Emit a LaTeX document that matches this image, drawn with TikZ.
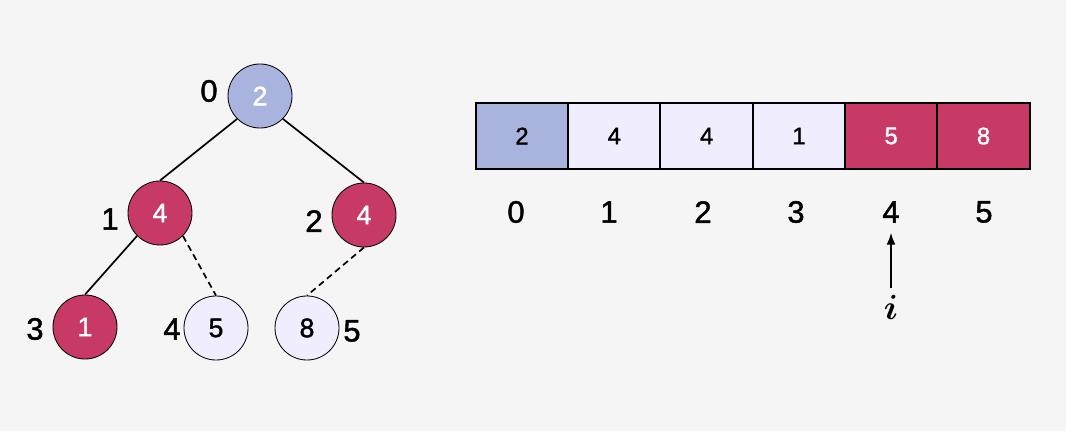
\documentclass[tikz,border=0pt]{standalone}
\usepackage{amsmath}
\usepackage{fontspec}
\setmainfont{Liberation Sans}[FakeBold=1.4]
\usepackage{tikz}
\usetikzlibrary{arrows.meta}

\definecolor{bgc}{HTML}{F5F5F5}
\definecolor{rootc}{HTML}{A9B4DE}
\definecolor{redc}{HTML}{C73A66}
\definecolor{pale}{HTML}{F0EEFE}

\tikzset{
	heapnode/.style={shape=circle,draw=black,line width=0.6pt,minimum size=1.6cm,inner sep=0pt,font=\fontsize{19}{21}\selectfont},
	cell/.style={shape=rectangle,draw=black,line width=1.4pt,minimum width=2.31cm,minimum height=1.65cm,inner sep=0pt,font=\fontsize{17}{19}\selectfont},
	idx/.style={font=\fontsize{22}{25}\selectfont}
}

\begin{document}
\begin{tikzpicture}[x=0.025cm,y=-0.025cm]
			\useasboundingbox[fill=bgc] (0,0) rectangle (1066,431);
			% tree
			\node[heapnode,fill=rootc,text=white] (A) at (260,96){2};
			\node[heapnode,fill=redc,text=white] (B) at (160,213){4};
			\node[heapnode,fill=redc,text=white] (C) at (364,215){4};
			\node[heapnode,fill=redc,text=white] (D) at (85,327){1};
			\node[heapnode,fill=pale] (E) at (216,328){5};
			\node[heapnode,fill=pale] (F) at (307,328){8};
			
			\node[idx] (tA) at (209,91){0};
			\node[idx] (tB) at (110,219){1};
			\node[idx] (tC) at (314,221){2};
			\node[idx] (tD) at (35,329){3};
			\node[idx] (tE) at (172,329){4};
			\node[idx] (tF) at (352,331){5};
			
			\path [-, line width=1.2pt, black] (A.south west) edge (B.north);
			\path [-, line width=1.2pt, black] (A.south east) edge (C.north);
			\path [-, line width=1.2pt, black] (B.south west) edge (D.north);
			\path [-, dash pattern=on 4.5pt off 3pt, line width=1.2pt, black] (B.south east) edge (E.north);
			\path [-, dash pattern=on 4.5pt off 3pt, line width=1.2pt, black] (C.south) edge (F.north);
			
			% array
			\node[cell,fill=rootc] (a0) at (522,136){2};
			\node[cell,fill=pale] (a1) at (614.3,136){4};
			\node[cell,fill=pale] (a2) at (706.6,136){4};
			\node[cell,fill=pale] (a3) at (798.9,136){1};
			\node[cell,fill=redc,text=white] (a4) at (891.2,136){5};
			\node[cell,fill=redc,text=white] (a5) at (983.5,136){8};
			
			\node[idx] (x0) at (516,212){0};
			\node[idx] (x1) at (609,212){1};
			\node[idx] (x2) at (703,212){2};
			\node[idx] (x3) at (796,212){3};
			\node[idx] (x4) at (891,212){4};
			\node[idx] (x5) at (984,212){5};
			
			\node[font=\fontsize{28}{30}\selectfont] (ptr) at (891,307){$\boldsymbol{i}$};
			\draw [-{Latex[length=0.3cm,width=0.22cm]}, line width=1.4pt, black, shorten >=3.5pt, shorten <=1pt] (ptr.north) -- (x4.south);
			\end{tikzpicture}
\end{document}
